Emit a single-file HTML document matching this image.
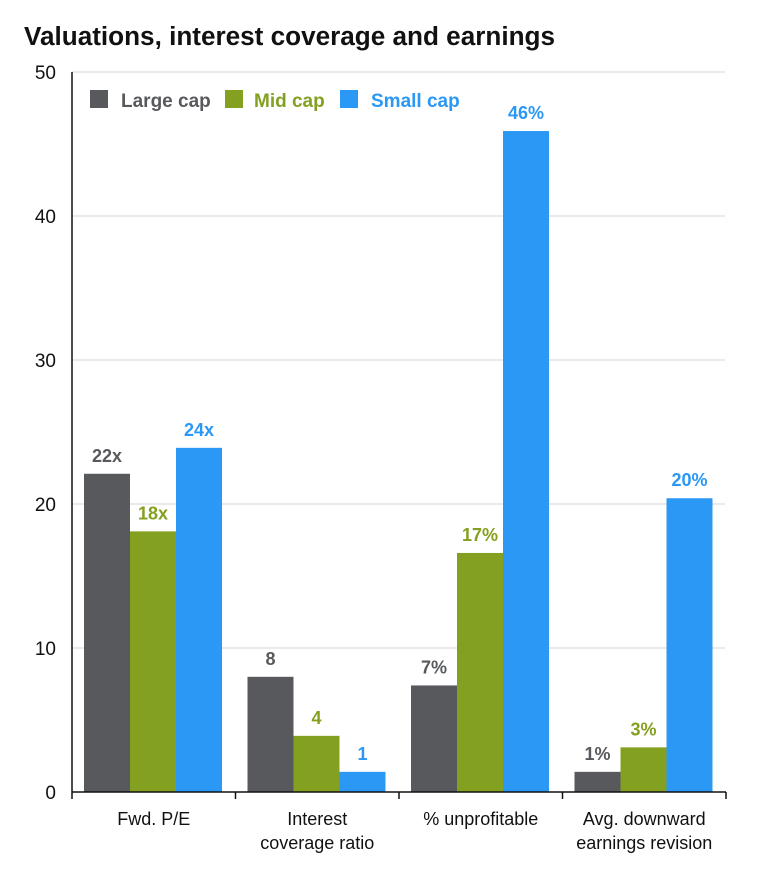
<!DOCTYPE html>
<html><head><meta charset="utf-8"><style>
body{margin:0;background:#fff;width:777px;height:889px;overflow:hidden;font-family:"Liberation Sans",Arial,sans-serif}
</style></head><body>
<svg width="777" height="889" xmlns="http://www.w3.org/2000/svg" font-family="Liberation Sans, Arial, sans-serif">
<text x="24" y="45" font-size="25.5" font-weight="bold" fill="#111" textLength="531" lengthAdjust="spacingAndGlyphs">Valuations, interest coverage and earnings</text>
<g id="grid"></g><g id="bars"></g><g id="labels"></g><g id="axes"></g>
<g font-size="19" font-weight="bold">
<rect x="90" y="90" width="18" height="18" fill="#57595c"/>
<text x="121" y="107" fill="#57595c">Large cap</text>
<rect x="225" y="90" width="18" height="18" fill="#84a020"/>
<text x="254" y="107" fill="#84a020">Mid cap</text>
<rect x="340" y="90" width="18" height="18" fill="#2b98f5"/>
<text x="371" y="107" fill="#2b98f5">Small cap</text>
</g>
</svg>
<script>
const categories=[["Fwd. P/E"],["Interest","coverage ratio"],["% unprofitable"],["Avg. downward","earnings revision"]];
const largeCap=[22.1,8,7.4,1.4];
const midCap=[18.1,3.9,16.6,3.1];
const smallCap=[23.9,1.4,45.9,20.4];
const largeLabels=["22x","8","7%","1%"];
const midLabels=["18x","4","17%","3%"];
const smallLabels=["24x","1","46%","20%"];
const yTicks=[0,10,20,30,40,50];
const NS="http://www.w3.org/2000/svg";
const x0=72,x1=726,y0=792,yTop=72,yMax=50;
const gw=(x1-x0)/categories.length;
function y(v){return y0-(v/yMax)*(y0-yTop);}
function el(t,a,p){const e=document.createElementNS(NS,t);for(const k in a)e.setAttribute(k,a[k]);document.getElementById(p).appendChild(e);return e;}
yTicks.forEach(t=>{
 if(t>0){const g=el('line',{x1:x0,x2:725,y1:y(t),y2:y(t),stroke:'#e3e3e3','stroke-width':1.5},'grid');
 
 }
 const l=el('text',{x:56,y:y(t)+7,'font-size':19,'text-anchor':'end',fill:'#111'},'axes');
 l.textContent=t;
 
 
});
const series=[[largeCap,largeLabels,'#57595c','large'],[midCap,midLabels,'#84a020','mid'],[smallCap,smallLabels,'#2b98f5','small']];
const bw=46,pad=12;
categories.forEach((c,i)=>{
 series.forEach((s,j)=>{
  const bx=x0+i*gw+pad+j*bw,v=s[0][i];
  const r=el('rect',{x:bx,y:y(v),width:bw,height:y0-y(v),fill:s[2]},'bars');
  
  
  const t=el('text',{x:bx+bw/2,y:y(v)-12,'font-size':18,'font-weight':'bold','text-anchor':'middle',fill:s[2]},'labels');
  t.textContent=s[1][i];
  
  
 });
 c.forEach((ln,k)=>{
  const t=el('text',{x:x0+i*gw+gw/2,y:825+k*24,'font-size':18,'text-anchor':'middle',fill:'#111'},'axes');
  t.textContent=ln;
  
  
 });
});
for(let i=0;i<=categories.length;i++){
 const tk=el('line',{x1:x0+i*gw,x2:x0+i*gw,y1:y0,y2:y0+7,stroke:'#111','stroke-width':1.5},'axes');
 
 
}
const ya=el('line',{x1:x0,x2:x0,y1:yTop,y2:y0,stroke:'#111','stroke-width':1.5},'axes');


const xa=el('line',{x1:x0,x2:x1,y1:y0,y2:y0,stroke:'#111','stroke-width':1.5},'axes');


</script>
</body></html>
